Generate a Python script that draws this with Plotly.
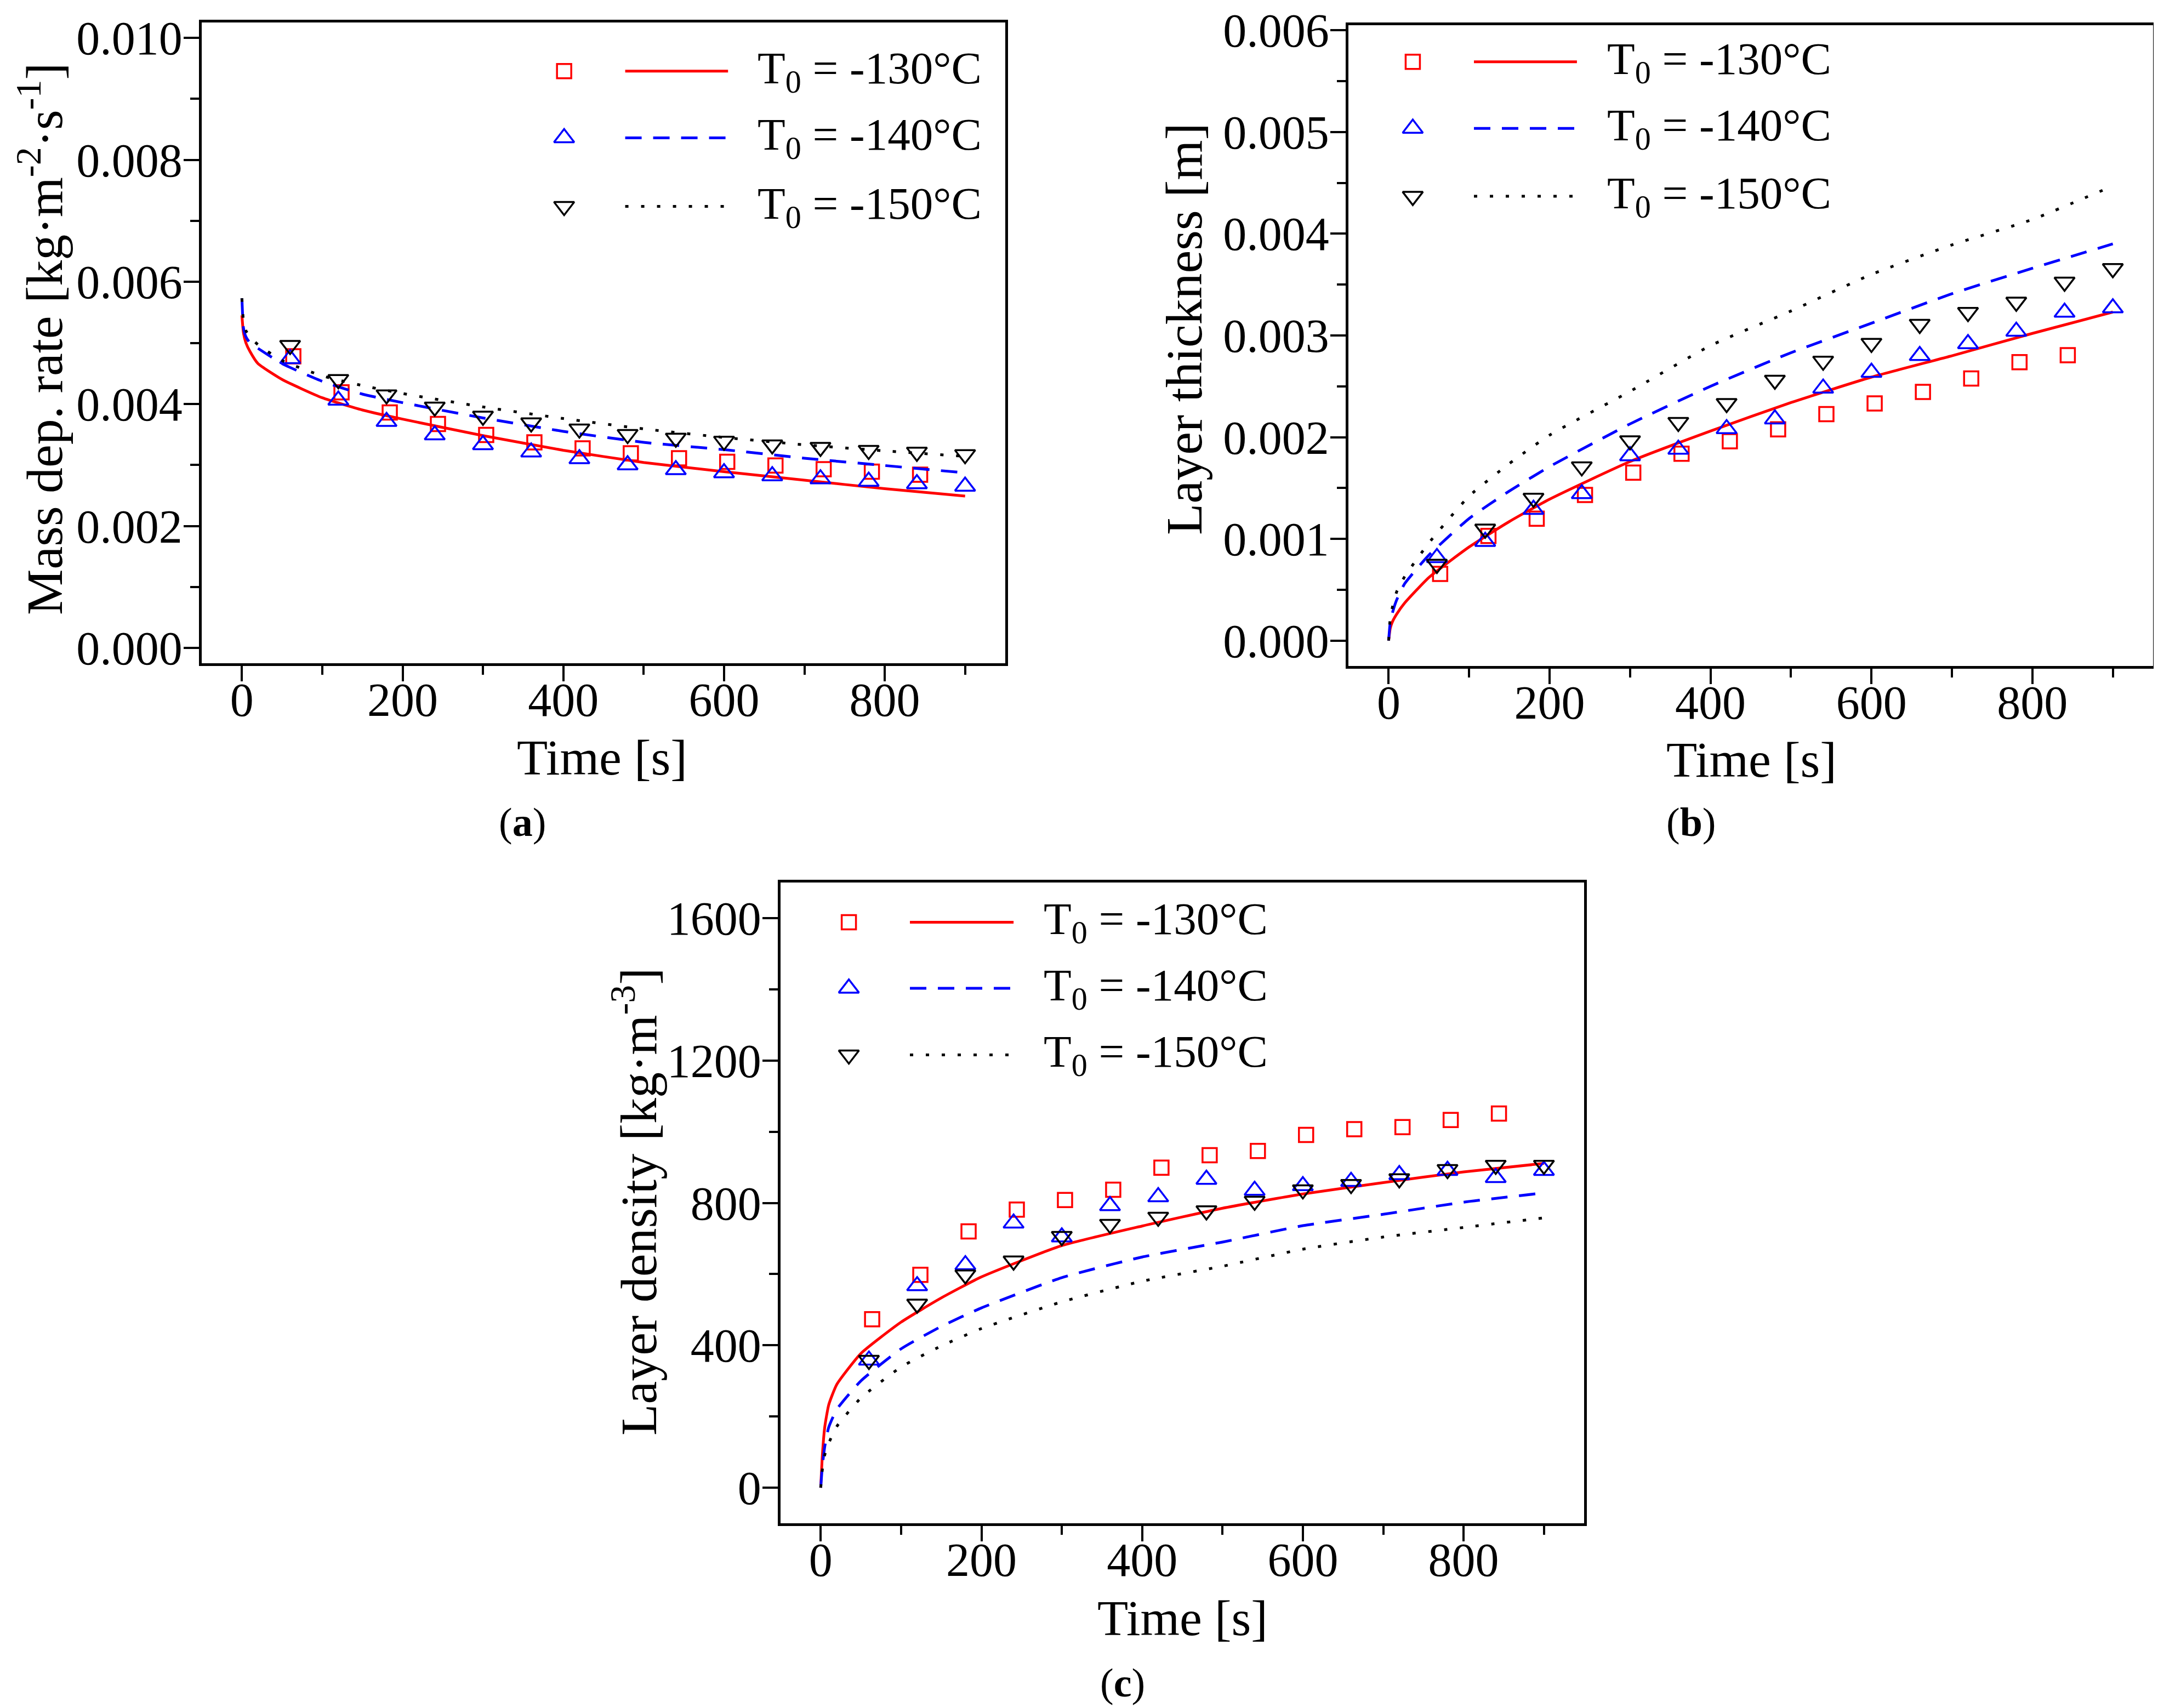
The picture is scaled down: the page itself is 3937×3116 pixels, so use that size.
#!/usr/bin/env python3
"""
Frost deposition at three initial plate temperatures:
mass deposition rate, layer thickness and layer density versus time.
Markers are experiments, lines are model results.
"""

import plotly.graph_objects as go

# ---------------------------------------------------------------- data
# experiment times (squares are plotted slightly shifted in the original)
t_exp_130 = [64, 124, 184, 244, 304, 364, 424, 484, 544, 604, 664, 724, 784, 844]
t_exp = [60, 120, 180, 240, 300, 360, 420, 480, 540, 600, 660, 720, 780, 840, 900]

# model output times
t_model = [0, 2, 5, 10, 20, 50, 100, 150, 200, 300, 400, 500, 600, 700, 800, 900]

# (a) mass deposition rate [kg m-2 s-1]
rate_exp_130 = [0.00478, 0.00419, 0.00386, 0.00367, 0.00349, 0.00337, 0.00327,
                0.00319, 0.00311, 0.00305, 0.00299, 0.00293, 0.00289, 0.00284]
rate_exp_140 = [0.00474, 0.00406, 0.00371, 0.00349, 0.00333, 0.00321, 0.00310, 0.00300,
                0.00292, 0.00287, 0.00282, 0.00277, 0.00273, 0.00269, 0.00265]
rate_exp_150 = [0.00496, 0.00440, 0.00415, 0.00395, 0.00380, 0.00369, 0.00359, 0.00350,
                0.00344, 0.00339, 0.00333, 0.00329, 0.00324, 0.00321, 0.00317]
rate_mod_130 = [0.00545, 0.00516, 0.00500, 0.00486, 0.00466, 0.00440, 0.00410, 0.00390,
                0.00375, 0.00348, 0.00324, 0.00304, 0.00289, 0.00275, 0.00261, 0.00249]
rate_mod_140 = [0.00573, 0.00524, 0.00510, 0.00500, 0.00491, 0.00466, 0.00437, 0.00416,
                0.00402, 0.00377, 0.00355, 0.00337, 0.00325, 0.00311, 0.00299, 0.00287]
rate_mod_150 = [0.00573, 0.00535, 0.00520, 0.00510, 0.00497, 0.00471, 0.00446, 0.00430,
                0.00417, 0.00395, 0.00376, 0.00359, 0.00345, 0.00333, 0.00323, 0.00314]

# (b) layer thickness [m]
thick_exp_130 = [0.000655, 0.001028, 0.001198, 0.001432, 0.001651, 0.001837, 0.001960,
                 0.002077, 0.002226, 0.002332, 0.002444, 0.002577, 0.002737, 0.002806]
thick_exp_140 = [0.000815, 0.000974, 0.001289, 0.001443, 0.001816, 0.001880, 0.002082, 0.002178,
                 0.002481, 0.002636, 0.002801, 0.002918, 0.003040, 0.003227, 0.003270]
thick_exp_150 = [0.000751, 0.001097, 0.001400, 0.001709, 0.001965, 0.002146, 0.002332, 0.002561,
                 0.002748, 0.002923, 0.003110, 0.003227, 0.003328, 0.003525, 0.003658]
thick_mod_130 = [0, 0.00012, 0.00019, 0.00026, 0.00037, 0.00062, 0.00092, 0.00117,
                 0.00139, 0.00176, 0.00206, 0.00234, 0.00259, 0.00280, 0.00302, 0.00323]
thick_mod_140 = [0, 0.00018, 0.00028, 0.00040, 0.00056, 0.00084, 0.00120, 0.00147,
                 0.00171, 0.00213, 0.00250, 0.00283, 0.00312, 0.00341, 0.00366, 0.00390]
thick_mod_150 = [0, 0.00022, 0.00034, 0.00048, 0.00063, 0.00096, 0.00142, 0.00174,
                 0.00202, 0.00245, 0.00290, 0.00324, 0.00360, 0.00389, 0.00414, 0.00447]

# (c) layer density [kg m-3]
dens_exp_130 = [473, 598, 720, 781, 808, 837, 899, 934, 946, 991, 1007, 1013, 1033, 1051]
dens_exp_140 = [358, 567, 626, 743, 704, 792, 817, 866, 835, 848, 860, 879, 891, 871, 891]
dens_exp_150 = [358, 516, 598, 637, 706, 740, 760, 778, 805, 837, 852, 868, 894, 906, 906]
dens_mod_130 = [0, 89, 170, 233, 290, 377, 465, 533, 592, 680, 735, 785, 825, 857, 887, 911]
dens_mod_140 = [0, 60, 115, 170, 220, 300, 390, 453, 505, 590, 648, 690, 736, 768, 802, 828]
dens_mod_150 = [0, 50, 92, 125, 172, 252, 339, 398, 447, 522, 580, 622, 670, 704, 731, 758]

legend_labels = ["T<sub>0</sub> = -130°C", "T<sub>0</sub> = -140°C", "T<sub>0</sub> = -150°C"]

# ---------------------------------------------------------------- style
W, H = 3937, 3116
FONT = "Liberation Serif"
RED, BLUE, BLACK = "#FF0000", "#0000FF", "#000000"

SERIES_STYLE = [
    dict(color=RED, symbol="square-open", size=26, dash="solid"),
    dict(color=BLUE, symbol="triangle-up-open", size=32, dash="30px,21px"),
    dict(color=BLACK, symbol="triangle-down-open", size=32, dash="6px,23px"),
]

# plot boxes in pixels: left, right, top, bottom
BOXES = {
    "a": (360, 1826, 33, 1202),
    "b": (2452, 3920, 38, 1207),
    "c": (1416, 2882, 1602, 2771),
}


def px_x(x):
    return x / W


def px_y(y):
    return 1 - y / H


def axis_style(rng, dtick, minor_dtick, fmt=None, standoff=0):
    """Common Origin-like axis: black box, outside ticks, minor ticks"""
    ax = dict(
        range=rng, tick0=0, dtick=dtick, automargin=False,
        showline=True, mirror=True, linecolor="black", linewidth=5,
        ticks="outside", ticklen=28, tickwidth=4, tickcolor="black",
        ticklabelstandoff=standoff,
        showgrid=False, zeroline=False,
        tickfont=dict(family=FONT, size=86, color="black"),
        minor=dict(dtick=minor_dtick, tick0=0, ticks="outside", ticklen=16,
                   tickwidth=4, tickcolor="black", showgrid=False),
        fixedrange=True,
    )
    if fmt:
        ax["tickformat"] = fmt
    return ax


def add_panel(fig, idx, t_sets, exp_sets, mod_sets):
    """Experimental markers and model lines of one panel"""
    xa, ya = ("x", "y") if idx == 1 else (f"x{idx}", f"y{idx}")
    for st, (tx, ex), my in zip(SERIES_STYLE, zip(t_sets, exp_sets), mod_sets):
        fig.add_trace(go.Scatter(
            x=t_model, y=my, mode="lines", xaxis=xa, yaxis=ya,
            line=dict(color=st["color"], width=5, dash=st["dash"],
                      shape="spline", smoothing=0.5),
            showlegend=False, hoverinfo="skip"))
        fig.add_trace(go.Scatter(
            x=tx, y=ex, mode="markers", xaxis=xa, yaxis=ya,
            marker=dict(symbol=st["symbol"], size=st["size"], color=st["color"],
                        line=dict(color=st["color"], width=3.5)),
            showlegend=False, cliponaxis=False))


def add_legend(fig, idx, mark_x, line_x, text_x, rows_y):
    """Manual legend: marker, line sample and label on one row (overlay axes 0..1)"""
    xa, ya = f"x{idx}", f"y{idx}"
    for st, label, ry in zip(SERIES_STYLE, legend_labels, rows_y):
        fig.add_trace(go.Scatter(
            x=list(line_x), y=[ry, ry], mode="lines", xaxis=xa, yaxis=ya,
            line=dict(color=st["color"], width=5, dash=st["dash"]),
            showlegend=False, hoverinfo="skip"))
        fig.add_trace(go.Scatter(
            x=[mark_x], y=[ry], mode="markers", xaxis=xa, yaxis=ya,
            marker=dict(symbol=st["symbol"], size=st["size"], color=st["color"],
                        line=dict(color=st["color"], width=3.5)),
            showlegend=False, hoverinfo="skip"))
        fig.add_annotation(x=text_x, y=ry, xref=xa, yref=ya, text=label,
                           showarrow=False, xanchor="left", yanchor="middle",
                           font=dict(family=FONT, size=83, color="black"))


fig = go.Figure()

add_panel(fig, 1, [t_exp_130, t_exp, t_exp],
          [rate_exp_130, rate_exp_140, rate_exp_150],
          [rate_mod_130, rate_mod_140, rate_mod_150])
add_panel(fig, 2, [t_exp_130, t_exp, t_exp],
          [thick_exp_130, thick_exp_140, thick_exp_150],
          [thick_mod_130, thick_mod_140, thick_mod_150])
add_panel(fig, 3, [t_exp_130, t_exp, t_exp],
          [dens_exp_130, dens_exp_140, dens_exp_150],
          [dens_mod_130, dens_mod_140, dens_mod_150])

add_legend(fig, 4, 0.451, (0.527, 0.655), 0.690, [0.924, 0.820, 0.713])
add_legend(fig, 5, 0.080, (0.156, 0.284), 0.320, [0.943, 0.839, 0.733])
add_legend(fig, 6, 0.085, (0.161, 0.290), 0.326, [0.938, 0.835, 0.731])

# ---------------------------------------------------------------- layout
layout = dict(
    width=W, height=H, margin=dict(l=0, r=0, t=0, b=0, autoexpand=False),
    paper_bgcolor="white", plot_bgcolor="white", showlegend=False,
    font=dict(family=FONT, color="black"),
)

panel_axes = [
    ("a", "", [-0.00025, 0.01025], 0.002, 0.001, ".3f"),
    ("b", "2", [-0.00025, 0.00605], 0.001, 0.0005, ".3f"),
    ("c", "3", [-100, 1700], 400, 200, None),
]
for key, n, yrng, ydt, ymin, fmt in panel_axes:
    l, r, t, b = BOXES[key]
    xd = [px_x(l), px_x(r)]
    yd = [px_y(b), px_y(t)]
    layout[f"xaxis{n}"] = dict(axis_style([-50, 950], 200, 100, standoff=-40),
                               domain=xd, anchor=f"y{n}")
    layout[f"yaxis{n}"] = dict(axis_style(yrng, ydt, ymin, fmt, standoff=-15),
                               domain=yd, anchor=f"x{n}")

# hidden overlay axes for the legends
for k, n in zip([4, 5, 6], ["", "2", "3"]):
    layout[f"xaxis{k}"] = dict(overlaying=f"x{n}", range=[0, 1], visible=False,
                               fixedrange=True, automargin=False)
    layout[f"yaxis{k}"] = dict(overlaying=f"y{n}", range=[0, 1], visible=False,
                               fixedrange=True, automargin=False)

fig.update_layout(**layout)

# axis titles and panel captions
titles = [
    # text, x px, y px, angle, size
    ("Time [s]", 1090, 1374, 0, 92),
    ("Time [s]", 3187, 1378, 0, 92),
    ("Time [s]", 2149, 2944, 0, 92),
    ("Mass dep. rate [kg·m<sup>-2</sup>·s<sup>-1</sup>]", 66, 610, -90, 94),
    ("Layer thickness [m]", 2152, 592, -90, 94),
    ("Layer density [kg·m<sup>-3</sup>]", 1150, 2184, -90, 94),
    ("(<b>a</b>)", 945, 1492, 0, 74),
    ("(<b>b</b>)", 3077, 1492, 0, 74),
    ("(<b>c</b>)", 2040, 3062, 0, 74),
]
for text, x, y, ang, size in titles:
    fig.add_annotation(x=px_x(x), y=px_y(y), xref="paper", yref="paper", text=text,
                       showarrow=False, textangle=ang, xanchor="center", yanchor="middle",
                       font=dict(family=FONT, size=size, color="black"))

fig.write_html("out.html")
